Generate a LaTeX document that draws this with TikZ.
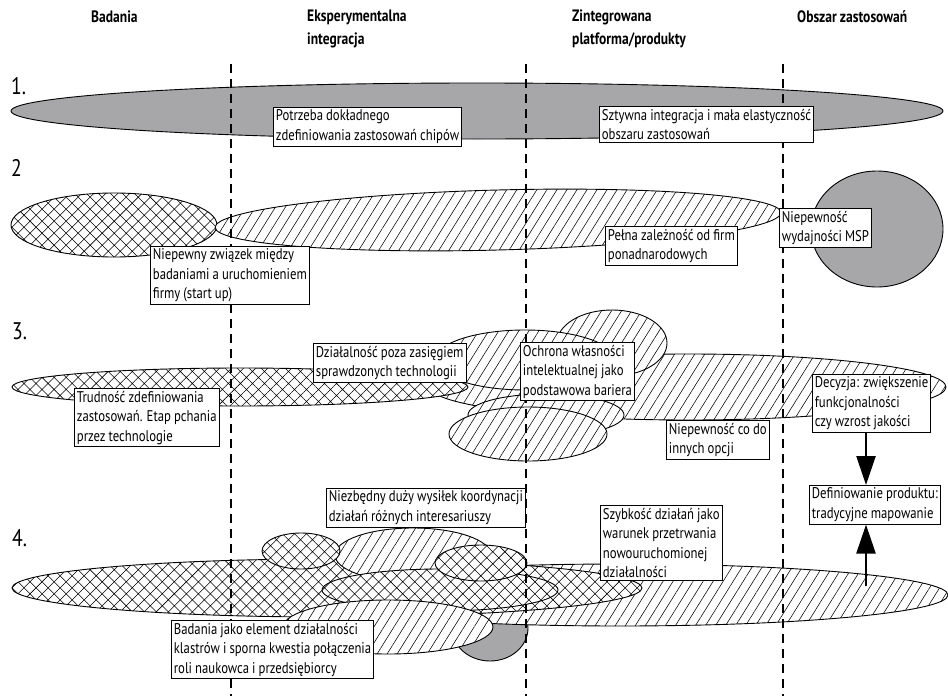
\documentclass[tikz,border=0pt]{standalone}
\usepackage{fontspec}
\setmainfont{PT Sans}[FakeStretch=0.82, WordSpace=0.9]
\usetikzlibrary{patterns.meta, arrows.meta}
\definecolor{shade}{RGB}{167,167,170}
\tikzset{
  outline/.style={draw=black, line width=0.9pt},
  grayblob/.style={outline, fill=shade},
  crossblob/.style={outline, preaction={fill=white},
    pattern={Hatch[angle=45, distance=8.5pt, line width=0.55pt]}},
  lineblob/.style={outline, preaction={fill=white},
    pattern={Lines[angle=58, distance=8.5pt, line width=0.55pt]}},
  phase/.style={line width=2pt, dash pattern=on 9pt off 6pt},
  note/.style={draw=black, line width=0.8pt, fill=white, align=left,
    anchor=north west, inner xsep=2.5pt, inner ysep=2.5pt,
    font=\fontsize{15.5}{19.5}\selectfont},
  colhead/.style={anchor=west, align=left, inner sep=0pt,
    font=\fontsize{16.5}{23}\selectfont\bfseries},
  rownum/.style={anchor=west, inner sep=0pt, font=\fontsize{24}{26}\selectfont},
  bigarrow/.style={line width=2.4pt, -{Triangle[length=29pt, width=19pt]}},
}
\begin{document}
\begin{tikzpicture}[x=1pt, y=-1pt]
\useasboundingbox (0,0) rectangle (948,696);
\fill[white] (0,0) rectangle (948,696);

% column headings
\node[colhead] (h1) at (91,17) {Badania};
\node[colhead] (h2) at (307,28.5) {Eksperymentalna\\integracja};
\node[colhead] (h3) at (572,28.5) {Zintegrowana\\platforma/produkty};
\node[colhead] (h4) at (797,17) {Obszar zastosowań};

% row numbers
\node[rownum] (n1) at (11,86) {1.};
\node[rownum] (n2) at (11,168) {2};
\node[rownum] (n3) at (12,331) {3.};
\node[rownum] (n4) at (12,538) {4.};

% row 1
\draw[grayblob] (477,111) ellipse [x radius=466, y radius=28];

% row 2
\draw[crossblob] (114,225) ellipse [x radius=103, y radius=32];
\draw[lineblob, rotate around={1.5:(498,220)}] (498,220) ellipse [x radius=283, y radius=30];
\draw[grayblob] (877,229) ellipse [x radius=66, y radius=58];

% row 3
\draw[lineblob] (688,387) ellipse [x radius=258, y radius=33];
\draw[crossblob] (240,387) ellipse [x radius=228, y radius=19];
\draw[lineblob] (612,343) ellipse [x radius=55, y radius=33];
\draw[lineblob] (525,360) ellipse [x radius=90, y radius=30];
\draw[lineblob] (546,415) ellipse [x radius=78, y radius=21];
\draw[lineblob] (528,434) ellipse [x radius=79, y radius=27];

% row 4
\draw[grayblob] (490,628) ellipse [x radius=38, y radius=33];
\draw[lineblob] (620,595) ellipse [x radius=328, y radius=31];
\draw[crossblob] (327,588) ellipse [x radius=315, y radius=29];
\draw[lineblob] (413,555) ellipse [x radius=78, y radius=27];
\draw[crossblob] (301,551) ellipse [x radius=39, y radius=18];
\draw[crossblob] (440,590) ellipse [x radius=118, y radius=21];
\draw[crossblob] (481,563) ellipse [x radius=46, y radius=18];
\draw[lineblob] (388,627) ellipse [x radius=105, y radius=27];

% phase boundaries
\draw[phase] (231,64) -- (231,696);
\draw[phase] (526,64) -- (526,696);
\draw[phase] (783,64) -- (783,696);

% labels
\node[note] (r1a) at (273,107) {Potrzeba dokładnego\\zdefiniowania zastosowań chipów};
\node[note] (r1b) at (599,106) {Sztywna integracja i mała elastyczność\\obszaru zastosowań};
\node[note] (r2a) at (150,246) {Niepewny związek między\\badaniami a uruchomieniem\\firmy (start up)};
\node[note] (r2b) at (605,226) {Pełna zależność od firm\\ponadnarodowych};
\node[note] (r2c) at (779,208) {Niepewność\\wydajności MSP};
\node[note] (r3a) at (74,388) {Trudność zdefiniowania\\zastosowań. Etap pchania\\przez technologie};
\node[note] (r3b) at (313,343) {Działalność poza zasięgiem\\sprawdzonych technologii};
\node[note] (r3c) at (520,342) {Ochrona własności\\intelektualnej jako\\podstawowa bariera};
\node[note] (r3d) at (666,420) {Niepewność co do\\innych opcji};
\node[note] (r3e) at (812,374) {Decyzja: zwiększenie\\funkcjonalności\\czy wzrost jakości};
\node[note] (r4a) at (326,488) {Niezbędny duży wysiłek koordynacji\\działań różnych interesariuszy};
\node[note] (r4b) at (600,505) {Szybkość działań jako\\warunek przetrwania\\nowouruchomionej\\działalności};
\node[note] (r4c) at (809,485) {Definiowanie produktu:\\tradycyjne mapowanie};
\node[note] (r4d) at (171,620) {Badania jako element działalności\\klastrów i sporna kwestia połączenia\\roli naukowca i przedsiębiorcy};

% decision arrows
\coordinate (ax) at (866,0);
\coordinate (upfoot) at (866,586);
\draw[bigarrow] (r3e.south -| ax) -- (r4c.north -| ax);
\draw[bigarrow] (upfoot) -- (r4c.south -| ax);
\end{tikzpicture}
\end{document}
